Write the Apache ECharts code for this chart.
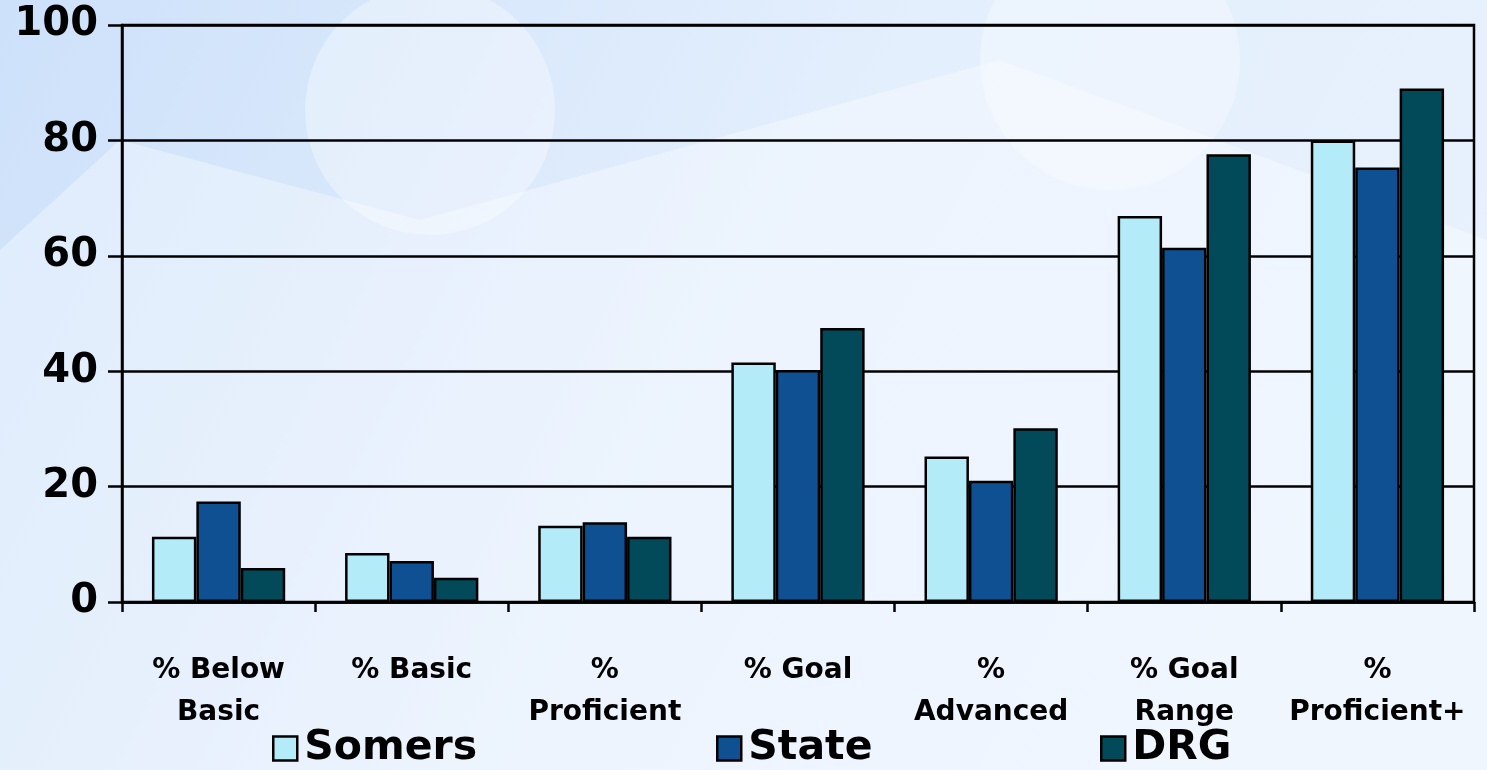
<!DOCTYPE html>
<html>
<head>
<meta charset="utf-8">
<script src="https://cdn.jsdelivr.net/npm/echarts@6/dist/echarts.min.js"></script>
<style>
html,body{margin:0;padding:0;width:1487px;height:770px;overflow:hidden;}
#chart{width:1487px;height:770px;}
</style>
</head>
<body>
<div id="chart"></div>
<script>
const categories = ["% Below\nBasic", "% Basic", "%\nProficient", "% Goal", "%\nAdvanced", "% Goal\nRange", "%\nProficient+"];
const seriesNames = ["Somers", "State", "DRG"];
const somers = [11.3, 8.5, 13.2, 41.5, 25.2, 66.9, 80.0];
const state = [17.4, 7.1, 13.8, 40.2, 21.0, 61.4, 75.3];
const drg = [5.9, 4.2, 11.3, 47.5, 30.1, 77.6, 89.0];
const yTicks = [0, 20, 40, 60, 80, 100];

const colors = ["#b4ebf8", "#0e5092", "#02495a"];
const wideFont = "'DejaVu Sans', 'Liberation Sans', Arial, sans-serif";
const legendLefts = [272, 716, 1100];

const chart = echarts.init(document.getElementById('chart'), null, {renderer: 'canvas'});

function mkSeries(name, data, color) {
  return {
    name: name,
    type: 'bar',
    data: data,
    barGap: '0%',
    barCategoryGap: '31%',
    itemStyle: {color: color, borderColor: '#000', borderWidth: 2.5},
    emphasis: {disabled: true}
  };
}

function mkLegend(name, left) {
  return {
    data: [name],
    left: left,
    top: 728,
    itemWidth: 24,
    itemHeight: 24,
    icon: 'rect',
    padding: 0,
    itemStyle: {borderColor: '#000', borderWidth: 2.5},
    textStyle: {fontFamily: wideFont, fontWeight: 'bold', fontSize: 41, color: '#000', padding: [0, 0, 0, 2]}
  };
}

const option = {
  animation: false,
  backgroundColor: {
    type: 'linear', x: 0, y: 0, x2: 1, y2: 1,
    colorStops: [
      {offset: 0, color: '#cde1fa'},
      {offset: 0.5, color: '#e4effd'},
      {offset: 1, color: '#e9f2fd'}
    ]
  },
  graphic: [
    {type: 'circle', shape: {cx: 430, cy: 110, r: 125}, style: {fill: 'rgba(255,255,255,0.35)'}, silent: true, z: -10},
    {type: 'polygon', shape: {points: [[0, 250], [120, 140], [420, 220], [1000, 60], [1487, 240], [1487, 770], [0, 770]]}, style: {fill: 'rgba(255,255,255,0.35)'}, silent: true, z: -10},
    {type: 'circle', shape: {cx: 1110, cy: 60, r: 130}, style: {fill: 'rgba(255,255,255,0.3)'}, silent: true, z: -10}
  ],
  grid: {
    left: 122, right: 13, top: 25, bottom: 168,
    show: true, borderColor: '#000', borderWidth: 2.5, backgroundColor: 'transparent'
  },
  legend: seriesNames.map(function (n, i) { return mkLegend(n, legendLefts[i]); }),
  xAxis: {
    type: 'category',
    data: categories,
    axisLine: {lineStyle: {color: '#000', width: 2.5}},
    axisTick: {show: true, length: 10, lineStyle: {color: '#000', width: 2.5}},
    axisLabel: {
      fontFamily: wideFont, fontWeight: 'bold', fontSize: 28, color: '#000',
      lineHeight: 42, margin: 48, interval: 0
    }
  },
  yAxis: {
    type: 'value',
    min: 0, max: 100, interval: 20,
    axisLine: {show: true, lineStyle: {color: '#000', width: 2.5}},
    axisTick: {show: true, length: 14, lineStyle: {color: '#000', width: 2.5}},
    splitLine: {show: true, lineStyle: {color: '#000', width: 2.5}},
    axisLabel: {
      fontFamily: wideFont, fontWeight: 'bold', fontSize: 40, color: '#000', margin: 24,
      formatter: function (v) { return yTicks.indexOf(v) >= 0 ? String(v) : ''; }
    }
  },
  series: [
    mkSeries(seriesNames[0], somers, colors[0]),
    mkSeries(seriesNames[1], state, colors[1]),
    mkSeries(seriesNames[2], drg, colors[2])
  ]
};
chart.setOption(option);
</script>
</body>
</html>
